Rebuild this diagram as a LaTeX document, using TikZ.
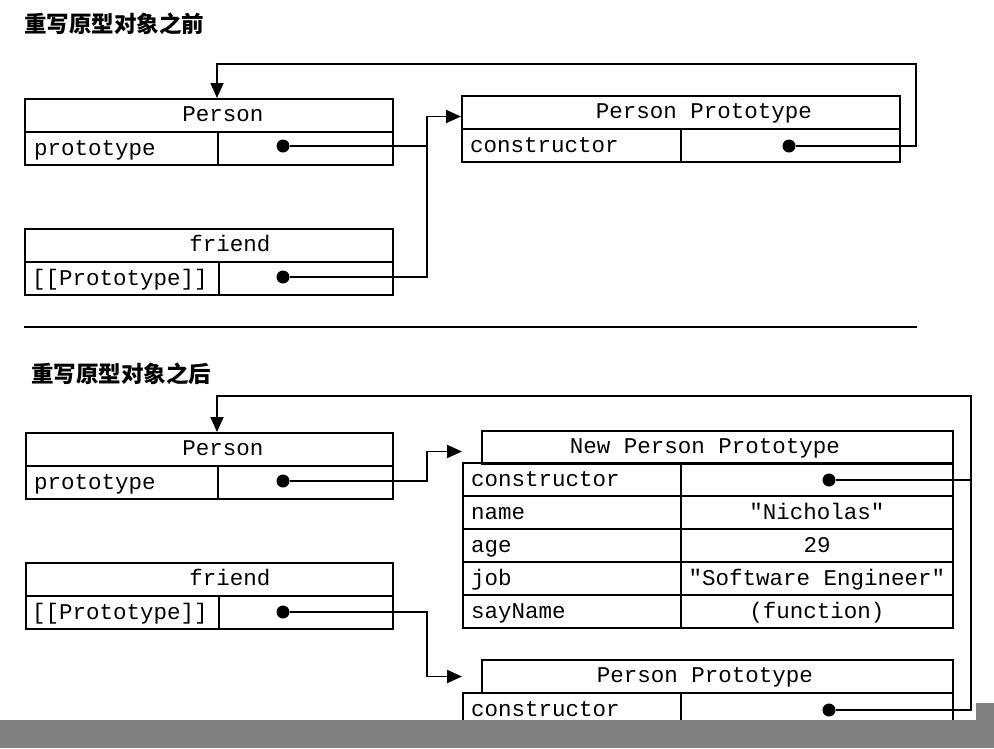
\documentclass[tikz,border=0pt]{standalone}
\usepackage{fontspec}
\setmonofont{Liberation Mono}
\newfontfamily\cjk{Noto Sans CJK SC}
\usetikzlibrary{arrows.meta, positioning}

\tikzset{
  cell/.style={draw, line width=2pt, anchor=north west, minimum height=33pt, inner sep=0pt,
    text height=14pt, text depth=0pt, font=\ttfamily\fontsize{22.5}{24}\selectfont},
  txt/.style={inner sep=0pt, text height=14pt, text depth=0pt, font=\ttfamily\fontsize{22.5}{24}\selectfont},
  dot/.style={circle, fill, inner sep=0pt, minimum size=13pt},
  link/.style={line width=1.8pt},
  ptr/.style={link, -{Triangle[length=15pt, width=13pt]}},
  heading/.style={anchor=west, inner sep=0pt, font=\cjk\bfseries\fontsize{22.5}{24}\selectfont}
}

\begin{document}
\begin{tikzpicture}[x=1pt, y=-1pt]
    \useasboundingbox (0,0) rectangle (994,748);

    % before rewriting
    \node[heading] (before) at (24,24) {重写原型对象之前};

    % Person
    \node[cell, minimum width=368pt] (pa) at (24,98) {};
    \node[txt] (pan) at (223,114.5) {Person};
    \node[cell, minimum width=193pt] (pak) at (24,131) {};
    \node[cell, minimum width=175pt] (pav) at (217,131) {};
    \node[txt, right=10pt of pak.west] (pakt) {prototype};
    \node[dot] (pad) at (283,146) {};

    % friend
    \node[cell, minimum width=368pt] (fa) at (24,228) {};
    \node[txt] (fan) at (230,244.5) {friend};
    \node[cell, minimum width=194pt] (fak) at (24,261) {};
    \node[cell, minimum width=174pt] (fav) at (218,261) {};
    \node[txt, right=8pt of fak.west] (fakt) {[[Prototype]]};
    \node[dot] (fad) at (283,277) {};

    % Person Prototype
    \node[cell, minimum width=438pt] (ppa) at (461,95) {};
    \node[txt] (ppan) at (704,111.5) {Person Prototype};
    \node[cell, minimum width=219pt] (ppk) at (461,128) {};
    \node[cell, minimum width=219pt] (ppv) at (680,128) {};
    \node[txt, right=9pt of ppk.west] (ppkt) {constructor};
    \node[dot] (ppd) at (789,146) {};

    % links
    \coordinate (bend1) at (427,0);
    \coordinate (back1) at (916,64);
    \draw[link] (pad) -- (pad -| bend1);
    \draw[ptr] (fad) -- (fad -| bend1) |- ([yshift=-4pt]ppa.west);
    \draw[ptr] (ppd) -| (back1) -| (pa.north -| pav.west);

    \draw[line width=2.2pt] (24,327) -- (917,327);

    % after rewriting
    \node[heading] (after) at (31,374) {重写原型对象之后};

    % Person
    \node[cell, minimum width=367pt] (pb) at (25,432) {};
    \node[txt] (pbn) at (223,448.5) {Person};
    \node[cell, minimum width=192pt] (pbk) at (25,465) {};
    \node[cell, minimum width=175pt] (pbv) at (217,465) {};
    \node[txt, right=9pt of pbk.west] (pbkt) {prototype};
    \node[dot] (pbd) at (283,481) {};

    % friend
    \node[cell, minimum width=367pt] (fb) at (25,562) {};
    \node[txt] (fbn) at (230,578.5) {friend};
    \node[cell, minimum width=193pt] (fbk) at (25,595) {};
    \node[cell, minimum width=174pt] (fbv) at (218,595) {};
    \node[txt, right=7pt of fbk.west] (fbkt) {[[Prototype]]};
    \node[dot] (fbd) at (283,612) {};

    % New Person Prototype
    \node[cell, minimum width=471pt] (nph) at (481,430) {};
    \node[txt] (nphn) at (705,446) {New Person Prototype};
    \node[cell, minimum width=218pt] (npk1) at (462,462) {};
    \node[cell, minimum width=272pt] (npv1) at (680,462) {};
    \node[cell, minimum width=218pt] (npk2) at (462,495) {};
    \node[cell, minimum width=272pt] (npv2) at (680,495) {"Nicholas"};
    \node[cell, minimum width=218pt] (npk3) at (462,528) {};
    \node[cell, minimum width=272pt] (npv3) at (680,528) {29};
    \node[cell, minimum width=218pt] (npk4) at (462,561) {};
    \node[cell, minimum width=272pt] (npv4) at (680,561) {"Software Engineer"};
    \node[cell, minimum width=218pt] (npk5) at (462,594) {};
    \node[cell, minimum width=272pt] (npv5) at (680,594) {(function)};
    \node[txt, right=9pt of npk1.west] (npt1) {constructor};
    \node[txt, right=9pt of npk2.west] (npt2) {name};
    \node[txt, right=9pt of npk3.west] (npt3) {age};
    \node[txt, right=9pt of npk4.west] (npt4) {job};
    \node[txt, right=9pt of npk5.west] (npt5) {sayName};
    \node[dot] (npd) at (829,480) {};

    % old Person Prototype
    \node[cell, minimum width=471pt] (oph) at (481,659) {};
    \node[txt] (ophn) at (705,675.5) {Person Prototype};
    \node[cell, minimum width=218pt] (opk) at (462,692) {};
    \node[cell, minimum width=272pt] (opv) at (680,692) {};
    \node[txt, right=9pt of opk.west] (opkt) {constructor};
    \node[dot] (opd) at (829,710) {};

    % links
    \coordinate (bend2) at (427,0);
    \coordinate (back2) at (971,396);
    \draw[ptr] (pbd) -- (pbd -| bend2) |- ([yshift=-4pt]nph.west -| npk1.west);
    \draw[ptr] (fbd) -- (fbd -| bend2) |- (oph.west -| opk.west);
    \draw[ptr] (npd) -| (back2) -| (pb.north -| pbv.west);
    \draw[link] (opd) -| (back2);

    % grey strip at the bottom
    \fill[gray] (0,720) rectangle (994,748);
    \fill[gray] (976,703) rectangle (994,720);
\end{tikzpicture}
\end{document}
